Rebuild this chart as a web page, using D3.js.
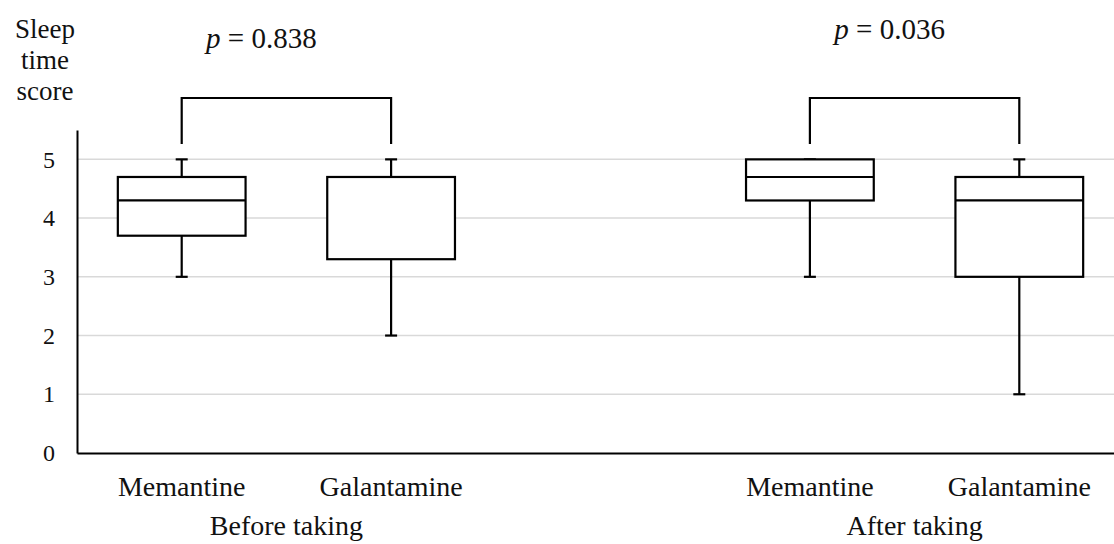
<!DOCTYPE html>
<html>
<head>
<meta charset="utf-8">
<script src="https://cdn.jsdelivr.net/npm/d3@7"></script>
<style>
  body { margin: 0; background: #fff; }
  svg { display: block; }
  svg text { font-family: 'Liberation Serif', 'DejaVu Serif', serif; }
</style>
</head>
<body>
<svg id="chart" width="1114" height="544"></svg>
<script>
// box plot values, one entry per drug & period
const groups = ['Before taking', 'After taking'];
const drugs = ['Memantine', 'Galantamine'];
const slots = ['Before|Memantine', 'Before|Galantamine', 'gap', 'After|Memantine', 'After|Galantamine'];
const boxSlots = ['Before|Memantine', 'Before|Galantamine', 'After|Memantine', 'After|Galantamine'];
const mins = [3, 2, 3, 1];
const q1s = [3.7, 3.3, 4.3, 3];
const medians = [4.3, 4.7, 4.7, 4.3];
const q3s = [4.7, 4.7, 5, 4.7];
const maxs = [5, 5, 5, 5];
const yTicks = [0, 1, 2, 3, 4, 5];
const pLabels = ['0.838', '0.036'];

const svg = d3.select('#chart'),
  W = +svg.attr('width'),
  plotLeft = 77, plotBottom = 453, plotTop = 130;

const x = d3.scalePoint().domain(slots).range([plotLeft, 1124]).padding(0.5);
const y = d3.scaleLinear().domain([0, 5.5]).range([plotBottom, plotTop]);
const boxW = x.step() * 0.61;
const capW = 12;

// gridlines
svg.append('g')
  .selectAll('line')
  .data(yTicks.filter(d => d > 0))
  .enter().append('line')
    .attr('x1', plotLeft).attr('x2', W)
    .attr('y1', d => y(d)).attr('y2', d => y(d))
    .attr('stroke', '#d9d9d9').attr('stroke-width', 1.5);

// y axis
const yAxis = svg.append('g')
  .attr('transform', 'translate(' + plotLeft + ',0)')
  .call(d3.axisLeft(y).tickValues(yTicks).tickFormat(d3.format('d')).tickSize(0).tickPadding(22));
yAxis.attr('font-family', null);
yAxis.select('.domain').attr('stroke', '#000').attr('stroke-width', 2);
yAxis.selectAll('text')
  .attr('font-size', 24).attr('fill', '#111');

// x axis
const xAxis = svg.append('g')
  .attr('transform', 'translate(0,' + plotBottom + ')')
  .call(d3.axisBottom(x).tickSize(0).tickFormat(''));
xAxis.select('.domain').attr('stroke', '#000').attr('stroke-width', 2);

// category labels
svg.append('g')
  .selectAll('text')
  .data(boxSlots)
  .enter().append('text')
    .attr('x', d => x(d))
    .attr('y', 496)
    .attr('text-anchor', 'middle')
    .attr('font-size', 28).attr('fill', '#111')
    .text(d => d.split('|')[1]);

// group labels
const groupMid = i => (x(boxSlots[i * 2]) + x(boxSlots[i * 2 + 1])) / 2;
svg.append('g')
  .selectAll('text')
  .data(groups)
  .enter().append('text')
    .attr('x', (d, i) => groupMid(i))
    .attr('y', 535)
    .attr('text-anchor', 'middle')
    .attr('font-size', 28).attr('fill', '#111')
    .text(d => d);

// y title
const yTitle = svg.append('text')
  .attr('text-anchor', 'middle')
  .attr('font-size', 27).attr('fill', '#111');
['Sleep', 'time', 'score'].forEach((t, i) => {
  yTitle.append('tspan').attr('x', 45).attr('y', 38 + i * 31).text(t);
});

// boxes
const boxes = svg.append('g')
  .selectAll('g')
  .data(boxSlots)
  .enter().append('g');

boxes.append('line')
  .attr('x1', d => x(d)).attr('x2', d => x(d))
  .attr('y1', (d, i) => y(maxs[i])).attr('y2', (d, i) => y(q3s[i]));
boxes.append('line')
  .attr('x1', d => x(d)).attr('x2', d => x(d))
  .attr('y1', (d, i) => y(q1s[i])).attr('y2', (d, i) => y(mins[i]));
boxes.append('line')
  .attr('x1', d => x(d) - capW / 2).attr('x2', d => x(d) + capW / 2)
  .attr('y1', (d, i) => y(maxs[i])).attr('y2', (d, i) => y(maxs[i]));
boxes.append('line')
  .attr('x1', d => x(d) - capW / 2).attr('x2', d => x(d) + capW / 2)
  .attr('y1', (d, i) => y(mins[i])).attr('y2', (d, i) => y(mins[i]));
boxes.append('rect')
  .attr('x', d => x(d) - boxW / 2)
  .attr('y', (d, i) => y(q3s[i]))
  .attr('width', boxW)
  .attr('height', (d, i) => y(q1s[i]) - y(q3s[i]))
  .attr('fill', '#fff');
boxes.append('line')
  .attr('x1', d => x(d) - boxW / 2).attr('x2', d => x(d) + boxW / 2)
  .attr('y1', (d, i) => y(medians[i])).attr('y2', (d, i) => y(medians[i]));
boxes.selectAll('line, rect')
  .attr('stroke', '#000').attr('stroke-width', 2.2);

// significance brackets
const bTop = 98, bEnd = 144;
groups.forEach((g, i) => {
  const a = x(boxSlots[i * 2]), b = x(boxSlots[i * 2 + 1]);
  svg.append('path')
    .attr('d', d3.line()([[a, bEnd], [a, bTop], [b, bTop], [b, bEnd]]))
    .attr('fill', 'none').attr('stroke', '#000').attr('stroke-width', 2.2);
  const t = svg.append('text')
    .attr('x', (a + b) / 2 - 25)
    .attr('y', i === 0 ? 48 : 39)
    .attr('text-anchor', 'middle')
    .attr('font-size', 29).attr('fill', '#111');
  t.append('tspan').attr('font-style', 'italic').text('p');
  t.append('tspan').text(' = ' + pLabels[i]);
});
</script>
</body>
</html>
